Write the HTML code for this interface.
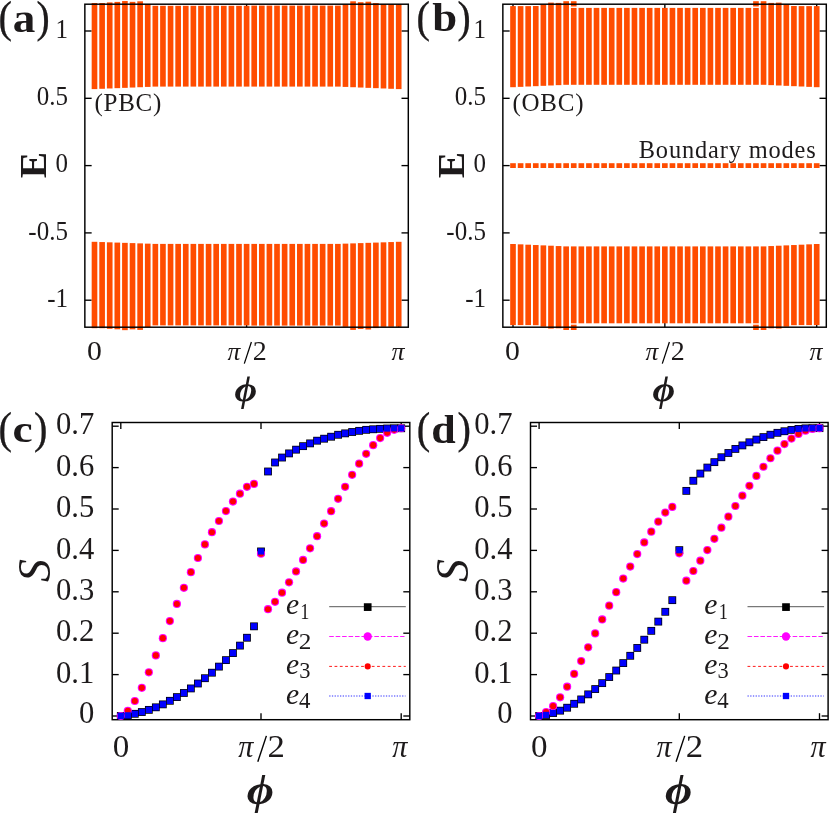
<!DOCTYPE html>
<html><head><meta charset="utf-8"><title>figure</title>
<style>html,body{margin:0;padding:0;background:#fff;overflow:hidden}svg{display:block}text{font-family:"Liberation Serif",serif;fill:#1d1a1b}</style>
</head><body>
<svg width="830" height="814" viewBox="0 0 830 814">
<rect width="830" height="814" fill="#fff"/>
<g style="will-change:transform">
<line x1="84.85" y1="31.00" x2="91.65" y2="31.00" stroke="#000" stroke-width="1.35" />
<line x1="401.50" y1="31.00" x2="408.30" y2="31.00" stroke="#000" stroke-width="1.35" />
<line x1="84.85" y1="98.30" x2="91.65" y2="98.30" stroke="#000" stroke-width="1.35" />
<line x1="401.50" y1="98.30" x2="408.30" y2="98.30" stroke="#000" stroke-width="1.35" />
<line x1="84.85" y1="165.60" x2="91.65" y2="165.60" stroke="#000" stroke-width="1.35" />
<line x1="401.50" y1="165.60" x2="408.30" y2="165.60" stroke="#000" stroke-width="1.35" />
<line x1="84.85" y1="232.90" x2="91.65" y2="232.90" stroke="#000" stroke-width="1.35" />
<line x1="401.50" y1="232.90" x2="408.30" y2="232.90" stroke="#000" stroke-width="1.35" />
<line x1="84.85" y1="300.20" x2="91.65" y2="300.20" stroke="#000" stroke-width="1.35" />
<line x1="401.50" y1="300.20" x2="408.30" y2="300.20" stroke="#000" stroke-width="1.35" />
<line x1="94.50" y1="327.20" x2="94.50" y2="320.40" stroke="#000" stroke-width="1.35" />
<line x1="94.50" y1="4.20" x2="94.50" y2="11.00" stroke="#000" stroke-width="1.35" />
<line x1="246.60" y1="327.20" x2="246.60" y2="320.40" stroke="#000" stroke-width="1.35" />
<line x1="246.60" y1="4.20" x2="246.60" y2="11.00" stroke="#000" stroke-width="1.35" />
<line x1="398.70" y1="327.20" x2="398.70" y2="320.40" stroke="#000" stroke-width="1.35" />
<line x1="398.70" y1="4.20" x2="398.70" y2="11.00" stroke="#000" stroke-width="1.35" />
<rect x="91.67" y="3.00" width="5.65" height="86.10" fill="#ff4c00"/>
<rect x="91.67" y="241.80" width="5.65" height="86.40" fill="#ff4c00"/>
<rect x="99.28" y="3.00" width="5.65" height="85.79" fill="#ff4c00"/>
<rect x="99.28" y="242.06" width="5.65" height="86.14" fill="#ff4c00"/>
<rect x="106.89" y="2.40" width="5.65" height="86.07" fill="#ff4c00"/>
<rect x="106.89" y="242.33" width="5.65" height="86.47" fill="#ff4c00"/>
<rect x="114.49" y="1.90" width="5.65" height="86.26" fill="#ff4c00"/>
<rect x="114.49" y="242.59" width="5.65" height="86.71" fill="#ff4c00"/>
<rect x="122.09" y="1.05" width="5.65" height="86.80" fill="#ff4c00"/>
<rect x="122.09" y="242.85" width="5.65" height="87.30" fill="#ff4c00"/>
<rect x="129.70" y="1.85" width="5.65" height="85.69" fill="#ff4c00"/>
<rect x="129.70" y="243.11" width="5.65" height="86.24" fill="#ff4c00"/>
<rect x="137.31" y="1.30" width="5.65" height="85.92" fill="#ff4c00"/>
<rect x="137.31" y="243.38" width="5.65" height="86.52" fill="#ff4c00"/>
<rect x="144.91" y="4.05" width="5.65" height="82.86" fill="#ff4c00"/>
<rect x="144.91" y="243.64" width="5.65" height="83.51" fill="#ff4c00"/>
<rect x="152.52" y="5.80" width="5.65" height="80.80" fill="#ff4c00"/>
<rect x="152.52" y="243.90" width="5.65" height="81.50" fill="#ff4c00"/>
<rect x="160.12" y="5.80" width="5.65" height="80.80" fill="#ff4c00"/>
<rect x="160.12" y="243.90" width="5.65" height="81.50" fill="#ff4c00"/>
<rect x="167.73" y="5.80" width="5.65" height="80.80" fill="#ff4c00"/>
<rect x="167.73" y="243.90" width="5.65" height="81.50" fill="#ff4c00"/>
<rect x="175.33" y="5.80" width="5.65" height="80.80" fill="#ff4c00"/>
<rect x="175.33" y="243.90" width="5.65" height="81.50" fill="#ff4c00"/>
<rect x="182.94" y="5.80" width="5.65" height="80.80" fill="#ff4c00"/>
<rect x="182.94" y="243.90" width="5.65" height="81.50" fill="#ff4c00"/>
<rect x="190.54" y="5.80" width="5.65" height="80.80" fill="#ff4c00"/>
<rect x="190.54" y="243.90" width="5.65" height="81.50" fill="#ff4c00"/>
<rect x="198.15" y="5.80" width="5.65" height="80.80" fill="#ff4c00"/>
<rect x="198.15" y="243.90" width="5.65" height="81.50" fill="#ff4c00"/>
<rect x="205.75" y="5.80" width="5.65" height="80.80" fill="#ff4c00"/>
<rect x="205.75" y="243.90" width="5.65" height="81.50" fill="#ff4c00"/>
<rect x="213.36" y="5.80" width="5.65" height="80.80" fill="#ff4c00"/>
<rect x="213.36" y="243.90" width="5.65" height="81.50" fill="#ff4c00"/>
<rect x="220.96" y="5.80" width="5.65" height="80.80" fill="#ff4c00"/>
<rect x="220.96" y="243.90" width="5.65" height="81.50" fill="#ff4c00"/>
<rect x="228.57" y="5.80" width="5.65" height="80.80" fill="#ff4c00"/>
<rect x="228.57" y="243.90" width="5.65" height="81.50" fill="#ff4c00"/>
<rect x="236.17" y="5.80" width="5.65" height="80.80" fill="#ff4c00"/>
<rect x="236.17" y="243.90" width="5.65" height="81.50" fill="#ff4c00"/>
<rect x="243.78" y="5.80" width="5.65" height="80.80" fill="#ff4c00"/>
<rect x="243.78" y="243.90" width="5.65" height="81.50" fill="#ff4c00"/>
<rect x="251.38" y="5.60" width="5.65" height="81.00" fill="#ff4c00"/>
<rect x="251.38" y="243.90" width="5.65" height="81.70" fill="#ff4c00"/>
<rect x="258.99" y="5.60" width="5.65" height="81.00" fill="#ff4c00"/>
<rect x="258.99" y="243.90" width="5.65" height="81.70" fill="#ff4c00"/>
<rect x="266.59" y="5.60" width="5.65" height="81.00" fill="#ff4c00"/>
<rect x="266.59" y="243.90" width="5.65" height="81.70" fill="#ff4c00"/>
<rect x="274.19" y="5.60" width="5.65" height="81.00" fill="#ff4c00"/>
<rect x="274.19" y="243.90" width="5.65" height="81.70" fill="#ff4c00"/>
<rect x="281.80" y="5.60" width="5.65" height="81.00" fill="#ff4c00"/>
<rect x="281.80" y="243.90" width="5.65" height="81.70" fill="#ff4c00"/>
<rect x="289.41" y="5.60" width="5.65" height="81.00" fill="#ff4c00"/>
<rect x="289.41" y="243.90" width="5.65" height="81.70" fill="#ff4c00"/>
<rect x="297.01" y="5.60" width="5.65" height="81.00" fill="#ff4c00"/>
<rect x="297.01" y="243.90" width="5.65" height="81.70" fill="#ff4c00"/>
<rect x="304.62" y="5.60" width="5.65" height="81.00" fill="#ff4c00"/>
<rect x="304.62" y="243.90" width="5.65" height="81.70" fill="#ff4c00"/>
<rect x="312.22" y="5.60" width="5.65" height="81.00" fill="#ff4c00"/>
<rect x="312.22" y="243.90" width="5.65" height="81.70" fill="#ff4c00"/>
<rect x="319.82" y="5.60" width="5.65" height="81.00" fill="#ff4c00"/>
<rect x="319.82" y="243.90" width="5.65" height="81.70" fill="#ff4c00"/>
<rect x="327.43" y="5.60" width="5.65" height="81.00" fill="#ff4c00"/>
<rect x="327.43" y="243.90" width="5.65" height="81.70" fill="#ff4c00"/>
<rect x="335.04" y="5.60" width="5.65" height="81.00" fill="#ff4c00"/>
<rect x="335.04" y="243.90" width="5.65" height="81.70" fill="#ff4c00"/>
<rect x="342.64" y="4.40" width="5.65" height="82.51" fill="#ff4c00"/>
<rect x="342.64" y="243.64" width="5.65" height="83.16" fill="#ff4c00"/>
<rect x="350.25" y="1.30" width="5.65" height="85.92" fill="#ff4c00"/>
<rect x="350.25" y="243.38" width="5.65" height="86.52" fill="#ff4c00"/>
<rect x="357.85" y="2.20" width="5.65" height="85.34" fill="#ff4c00"/>
<rect x="357.85" y="243.11" width="5.65" height="85.89" fill="#ff4c00"/>
<rect x="365.46" y="1.70" width="5.65" height="86.15" fill="#ff4c00"/>
<rect x="365.46" y="242.85" width="5.65" height="86.65" fill="#ff4c00"/>
<rect x="373.06" y="3.10" width="5.65" height="85.06" fill="#ff4c00"/>
<rect x="373.06" y="242.59" width="5.65" height="85.51" fill="#ff4c00"/>
<rect x="380.67" y="4.40" width="5.65" height="84.07" fill="#ff4c00"/>
<rect x="380.67" y="242.33" width="5.65" height="84.47" fill="#ff4c00"/>
<rect x="388.27" y="4.40" width="5.65" height="84.39" fill="#ff4c00"/>
<rect x="388.27" y="242.06" width="5.65" height="84.74" fill="#ff4c00"/>
<rect x="395.88" y="4.40" width="5.65" height="84.70" fill="#ff4c00"/>
<rect x="395.88" y="241.80" width="5.65" height="85.00" fill="#ff4c00"/>
<rect x="84.85" y="4.2" width="323.45" height="323.00" fill="none" stroke="#000" stroke-width="1.45"/>
<text transform="translate(67.95,37.75) scale(0.926,1)" font-size="27" text-anchor="end" >1</text>
<text transform="translate(67.95,105.05) scale(0.926,1)" font-size="27" text-anchor="end" >0.5</text>
<text transform="translate(67.95,172.35) scale(0.926,1)" font-size="27" text-anchor="end" >0</text>
<text transform="translate(67.95,239.65) scale(0.926,1)" font-size="27" text-anchor="end" >-0.5</text>
<text transform="translate(67.95,306.95) scale(0.926,1)" font-size="27" text-anchor="end" >-1</text>
<text transform="translate(87.11,359.83) scale(1.0918,1)" font-size="27.26" font-weight="normal" font-style="normal" >0</text>
<text transform="translate(391.47,359.74) scale(0.9895,1)" font-size="26.24" font-weight="normal" font-style="italic" >π</text>
<text transform="translate(227.47,359.64) scale(0.9911,1)" font-size="25.81" font-weight="normal" font-style="italic" >π</text>
<line x1="244.30" y1="363.60" x2="251.40" y2="342.00" stroke="#000" stroke-width="1.25" />
<text transform="translate(252.74,359.90) scale(1.0382,1)" font-size="26.97" font-weight="normal" font-style="normal" >2</text>
<text transform="translate(234.41,401.27) scale(1.0756,1)" font-size="36.31" font-weight="bold" font-style="italic" >ϕ</text>
<text transform="translate(45.90,178.29) rotate(-90) scale(1.0226,1)" font-size="38.63" font-weight="bold" font-style="normal">E</text>
<text x="94.45" y="111.30" font-size="25" text-anchor="start" letter-spacing="0.75" >(PBC)</text>
<text transform="translate(-1.52,32.04) scale(0.9157,1)" font-size="44.11" font-weight="normal" font-style="normal" stroke="#000" stroke-width="0.3">(</text>
<text transform="translate(12.85,31.50) scale(1.1351,1)" font-size="39.79" font-weight="bold" font-style="normal" >a</text>
<text transform="translate(36.41,32.04) scale(0.8981,1)" font-size="44.11" font-weight="normal" font-style="normal" stroke="#000" stroke-width="0.3">)</text>
<line x1="502.85" y1="31.00" x2="509.65" y2="31.00" stroke="#000" stroke-width="1.35" />
<line x1="819.50" y1="31.00" x2="826.30" y2="31.00" stroke="#000" stroke-width="1.35" />
<line x1="502.85" y1="98.30" x2="509.65" y2="98.30" stroke="#000" stroke-width="1.35" />
<line x1="819.50" y1="98.30" x2="826.30" y2="98.30" stroke="#000" stroke-width="1.35" />
<line x1="502.85" y1="165.60" x2="509.65" y2="165.60" stroke="#000" stroke-width="1.35" />
<line x1="819.50" y1="165.60" x2="826.30" y2="165.60" stroke="#000" stroke-width="1.35" />
<line x1="502.85" y1="232.90" x2="509.65" y2="232.90" stroke="#000" stroke-width="1.35" />
<line x1="819.50" y1="232.90" x2="826.30" y2="232.90" stroke="#000" stroke-width="1.35" />
<line x1="502.85" y1="300.20" x2="509.65" y2="300.20" stroke="#000" stroke-width="1.35" />
<line x1="819.50" y1="300.20" x2="826.30" y2="300.20" stroke="#000" stroke-width="1.35" />
<line x1="513.00" y1="327.20" x2="513.00" y2="320.40" stroke="#000" stroke-width="1.35" />
<line x1="513.00" y1="4.20" x2="513.00" y2="11.00" stroke="#000" stroke-width="1.35" />
<line x1="664.85" y1="327.20" x2="664.85" y2="320.40" stroke="#000" stroke-width="1.35" />
<line x1="664.85" y1="4.20" x2="664.85" y2="11.00" stroke="#000" stroke-width="1.35" />
<line x1="816.70" y1="327.20" x2="816.70" y2="320.40" stroke="#000" stroke-width="1.35" />
<line x1="816.70" y1="4.20" x2="816.70" y2="11.00" stroke="#000" stroke-width="1.35" />
<rect x="510.18" y="6.10" width="5.65" height="81.10" fill="#ff4c00"/>
<rect x="510.18" y="244.00" width="5.65" height="81.10" fill="#ff4c00"/>
<rect x="510.18" y="163.20" width="5.65" height="4.8" fill="#ff4c00"/>
<rect x="517.77" y="6.10" width="5.65" height="80.76" fill="#ff4c00"/>
<rect x="517.77" y="244.34" width="5.65" height="80.76" fill="#ff4c00"/>
<rect x="517.77" y="163.20" width="5.65" height="4.8" fill="#ff4c00"/>
<rect x="525.36" y="6.10" width="5.65" height="80.41" fill="#ff4c00"/>
<rect x="525.36" y="244.69" width="5.65" height="80.41" fill="#ff4c00"/>
<rect x="525.36" y="163.20" width="5.65" height="4.8" fill="#ff4c00"/>
<rect x="532.95" y="6.00" width="5.65" height="80.17" fill="#ff4c00"/>
<rect x="532.95" y="245.03" width="5.65" height="80.17" fill="#ff4c00"/>
<rect x="532.95" y="163.20" width="5.65" height="4.8" fill="#ff4c00"/>
<rect x="540.54" y="4.50" width="5.65" height="81.33" fill="#ff4c00"/>
<rect x="540.54" y="245.37" width="5.65" height="81.33" fill="#ff4c00"/>
<rect x="540.54" y="163.20" width="5.65" height="4.8" fill="#ff4c00"/>
<rect x="548.14" y="2.60" width="5.65" height="82.89" fill="#ff4c00"/>
<rect x="548.14" y="245.71" width="5.65" height="82.89" fill="#ff4c00"/>
<rect x="548.14" y="163.20" width="5.65" height="4.8" fill="#ff4c00"/>
<rect x="555.73" y="2.90" width="5.65" height="82.24" fill="#ff4c00"/>
<rect x="555.73" y="246.06" width="5.65" height="82.24" fill="#ff4c00"/>
<rect x="555.73" y="163.20" width="5.65" height="4.8" fill="#ff4c00"/>
<rect x="563.32" y="1.20" width="5.65" height="83.60" fill="#ff4c00"/>
<rect x="563.32" y="246.40" width="5.65" height="83.60" fill="#ff4c00"/>
<rect x="563.32" y="163.20" width="5.65" height="4.8" fill="#ff4c00"/>
<rect x="570.91" y="7.90" width="5.65" height="76.90" fill="#ff4c00"/>
<rect x="570.91" y="246.40" width="5.65" height="76.90" fill="#ff4c00"/>
<rect x="570.91" y="1.2" width="5.65" height="5.3" fill="#ff4c00"/>
<rect x="570.91" y="324.70" width="5.65" height="5.3" fill="#ff4c00"/>
<rect x="570.91" y="163.20" width="5.65" height="4.8" fill="#ff4c00"/>
<rect x="578.51" y="7.90" width="5.65" height="76.90" fill="#ff4c00"/>
<rect x="578.51" y="246.40" width="5.65" height="76.90" fill="#ff4c00"/>
<rect x="578.51" y="163.20" width="5.65" height="4.8" fill="#ff4c00"/>
<rect x="586.10" y="7.90" width="5.65" height="76.90" fill="#ff4c00"/>
<rect x="586.10" y="246.40" width="5.65" height="76.90" fill="#ff4c00"/>
<rect x="586.10" y="163.20" width="5.65" height="4.8" fill="#ff4c00"/>
<rect x="593.69" y="7.90" width="5.65" height="76.90" fill="#ff4c00"/>
<rect x="593.69" y="246.40" width="5.65" height="76.90" fill="#ff4c00"/>
<rect x="593.69" y="163.20" width="5.65" height="4.8" fill="#ff4c00"/>
<rect x="601.28" y="7.90" width="5.65" height="76.90" fill="#ff4c00"/>
<rect x="601.28" y="246.40" width="5.65" height="76.90" fill="#ff4c00"/>
<rect x="601.28" y="163.20" width="5.65" height="4.8" fill="#ff4c00"/>
<rect x="608.88" y="7.90" width="5.65" height="76.90" fill="#ff4c00"/>
<rect x="608.88" y="246.40" width="5.65" height="76.90" fill="#ff4c00"/>
<rect x="608.88" y="163.20" width="5.65" height="4.8" fill="#ff4c00"/>
<rect x="616.47" y="7.90" width="5.65" height="76.90" fill="#ff4c00"/>
<rect x="616.47" y="246.40" width="5.65" height="76.90" fill="#ff4c00"/>
<rect x="616.47" y="163.20" width="5.65" height="4.8" fill="#ff4c00"/>
<rect x="624.06" y="7.90" width="5.65" height="76.90" fill="#ff4c00"/>
<rect x="624.06" y="246.40" width="5.65" height="76.90" fill="#ff4c00"/>
<rect x="624.06" y="163.20" width="5.65" height="4.8" fill="#ff4c00"/>
<rect x="631.65" y="7.90" width="5.65" height="76.90" fill="#ff4c00"/>
<rect x="631.65" y="246.40" width="5.65" height="76.90" fill="#ff4c00"/>
<rect x="631.65" y="163.20" width="5.65" height="4.8" fill="#ff4c00"/>
<rect x="639.25" y="7.90" width="5.65" height="76.90" fill="#ff4c00"/>
<rect x="639.25" y="246.40" width="5.65" height="76.90" fill="#ff4c00"/>
<rect x="639.25" y="163.20" width="5.65" height="4.8" fill="#ff4c00"/>
<rect x="646.84" y="7.90" width="5.65" height="76.90" fill="#ff4c00"/>
<rect x="646.84" y="246.40" width="5.65" height="76.90" fill="#ff4c00"/>
<rect x="646.84" y="163.20" width="5.65" height="4.8" fill="#ff4c00"/>
<rect x="654.43" y="7.90" width="5.65" height="76.90" fill="#ff4c00"/>
<rect x="654.43" y="246.40" width="5.65" height="76.90" fill="#ff4c00"/>
<rect x="654.43" y="163.20" width="5.65" height="4.8" fill="#ff4c00"/>
<rect x="662.02" y="7.90" width="5.65" height="76.90" fill="#ff4c00"/>
<rect x="662.02" y="246.40" width="5.65" height="76.90" fill="#ff4c00"/>
<rect x="662.02" y="163.20" width="5.65" height="4.8" fill="#ff4c00"/>
<rect x="669.62" y="7.90" width="5.65" height="76.90" fill="#ff4c00"/>
<rect x="669.62" y="246.40" width="5.65" height="76.90" fill="#ff4c00"/>
<rect x="669.62" y="163.20" width="5.65" height="4.8" fill="#ff4c00"/>
<rect x="677.21" y="7.90" width="5.65" height="76.90" fill="#ff4c00"/>
<rect x="677.21" y="246.40" width="5.65" height="76.90" fill="#ff4c00"/>
<rect x="677.21" y="163.20" width="5.65" height="4.8" fill="#ff4c00"/>
<rect x="684.80" y="7.90" width="5.65" height="76.90" fill="#ff4c00"/>
<rect x="684.80" y="246.40" width="5.65" height="76.90" fill="#ff4c00"/>
<rect x="684.80" y="163.20" width="5.65" height="4.8" fill="#ff4c00"/>
<rect x="692.39" y="7.90" width="5.65" height="76.90" fill="#ff4c00"/>
<rect x="692.39" y="246.40" width="5.65" height="76.90" fill="#ff4c00"/>
<rect x="692.39" y="163.20" width="5.65" height="4.8" fill="#ff4c00"/>
<rect x="699.99" y="7.90" width="5.65" height="76.90" fill="#ff4c00"/>
<rect x="699.99" y="246.40" width="5.65" height="76.90" fill="#ff4c00"/>
<rect x="699.99" y="163.20" width="5.65" height="4.8" fill="#ff4c00"/>
<rect x="707.58" y="7.90" width="5.65" height="76.90" fill="#ff4c00"/>
<rect x="707.58" y="246.40" width="5.65" height="76.90" fill="#ff4c00"/>
<rect x="707.58" y="163.20" width="5.65" height="4.8" fill="#ff4c00"/>
<rect x="715.17" y="7.90" width="5.65" height="76.90" fill="#ff4c00"/>
<rect x="715.17" y="246.40" width="5.65" height="76.90" fill="#ff4c00"/>
<rect x="715.17" y="163.20" width="5.65" height="4.8" fill="#ff4c00"/>
<rect x="722.76" y="7.90" width="5.65" height="76.90" fill="#ff4c00"/>
<rect x="722.76" y="246.40" width="5.65" height="76.90" fill="#ff4c00"/>
<rect x="722.76" y="163.20" width="5.65" height="4.8" fill="#ff4c00"/>
<rect x="730.36" y="7.90" width="5.65" height="76.90" fill="#ff4c00"/>
<rect x="730.36" y="246.40" width="5.65" height="76.90" fill="#ff4c00"/>
<rect x="730.36" y="163.20" width="5.65" height="4.8" fill="#ff4c00"/>
<rect x="737.95" y="7.90" width="5.65" height="76.90" fill="#ff4c00"/>
<rect x="737.95" y="246.40" width="5.65" height="76.90" fill="#ff4c00"/>
<rect x="737.95" y="163.20" width="5.65" height="4.8" fill="#ff4c00"/>
<rect x="745.54" y="7.90" width="5.65" height="76.90" fill="#ff4c00"/>
<rect x="745.54" y="246.40" width="5.65" height="76.90" fill="#ff4c00"/>
<rect x="745.54" y="163.20" width="5.65" height="4.8" fill="#ff4c00"/>
<rect x="753.13" y="7.90" width="5.65" height="76.90" fill="#ff4c00"/>
<rect x="753.13" y="246.40" width="5.65" height="76.90" fill="#ff4c00"/>
<rect x="753.13" y="1.2" width="5.65" height="5.3" fill="#ff4c00"/>
<rect x="753.13" y="324.70" width="5.65" height="5.3" fill="#ff4c00"/>
<rect x="753.13" y="163.20" width="5.65" height="4.8" fill="#ff4c00"/>
<rect x="760.73" y="1.20" width="5.65" height="83.60" fill="#ff4c00"/>
<rect x="760.73" y="246.40" width="5.65" height="83.60" fill="#ff4c00"/>
<rect x="760.73" y="163.20" width="5.65" height="4.8" fill="#ff4c00"/>
<rect x="768.32" y="2.90" width="5.65" height="82.24" fill="#ff4c00"/>
<rect x="768.32" y="246.06" width="5.65" height="82.24" fill="#ff4c00"/>
<rect x="768.32" y="163.20" width="5.65" height="4.8" fill="#ff4c00"/>
<rect x="775.91" y="2.60" width="5.65" height="82.89" fill="#ff4c00"/>
<rect x="775.91" y="245.71" width="5.65" height="82.89" fill="#ff4c00"/>
<rect x="775.91" y="163.20" width="5.65" height="4.8" fill="#ff4c00"/>
<rect x="783.50" y="4.50" width="5.65" height="81.33" fill="#ff4c00"/>
<rect x="783.50" y="245.37" width="5.65" height="81.33" fill="#ff4c00"/>
<rect x="783.50" y="163.20" width="5.65" height="4.8" fill="#ff4c00"/>
<rect x="791.10" y="6.00" width="5.65" height="80.17" fill="#ff4c00"/>
<rect x="791.10" y="245.03" width="5.65" height="80.17" fill="#ff4c00"/>
<rect x="791.10" y="163.20" width="5.65" height="4.8" fill="#ff4c00"/>
<rect x="798.69" y="6.10" width="5.65" height="80.41" fill="#ff4c00"/>
<rect x="798.69" y="244.69" width="5.65" height="80.41" fill="#ff4c00"/>
<rect x="798.69" y="163.20" width="5.65" height="4.8" fill="#ff4c00"/>
<rect x="806.28" y="6.10" width="5.65" height="80.76" fill="#ff4c00"/>
<rect x="806.28" y="244.34" width="5.65" height="80.76" fill="#ff4c00"/>
<rect x="806.28" y="163.20" width="5.65" height="4.8" fill="#ff4c00"/>
<rect x="813.88" y="6.10" width="5.65" height="81.10" fill="#ff4c00"/>
<rect x="813.88" y="244.00" width="5.65" height="81.10" fill="#ff4c00"/>
<rect x="813.88" y="163.20" width="5.65" height="4.8" fill="#ff4c00"/>
<rect x="502.85" y="4.2" width="323.45" height="323.00" fill="none" stroke="#000" stroke-width="1.45"/>
<text transform="translate(485.95,37.75) scale(0.926,1)" font-size="27" text-anchor="end" >1</text>
<text transform="translate(485.95,105.05) scale(0.926,1)" font-size="27" text-anchor="end" >0.5</text>
<text transform="translate(485.95,172.35) scale(0.926,1)" font-size="27" text-anchor="end" >0</text>
<text transform="translate(485.95,239.65) scale(0.926,1)" font-size="27" text-anchor="end" >-0.5</text>
<text transform="translate(485.95,306.95) scale(0.926,1)" font-size="27" text-anchor="end" >-1</text>
<text transform="translate(505.11,359.83) scale(1.0918,1)" font-size="27.26" font-weight="normal" font-style="normal" >0</text>
<text transform="translate(809.47,359.74) scale(0.9895,1)" font-size="26.24" font-weight="normal" font-style="italic" >π</text>
<text transform="translate(645.47,359.64) scale(0.9911,1)" font-size="25.81" font-weight="normal" font-style="italic" >π</text>
<line x1="662.30" y1="363.60" x2="669.40" y2="342.00" stroke="#000" stroke-width="1.25" />
<text transform="translate(670.74,359.90) scale(1.0382,1)" font-size="26.97" font-weight="normal" font-style="normal" >2</text>
<text transform="translate(652.41,401.27) scale(1.0756,1)" font-size="36.31" font-weight="bold" font-style="italic" >ϕ</text>
<text transform="translate(463.90,178.29) rotate(-90) scale(1.0226,1)" font-size="38.63" font-weight="bold" font-style="normal">E</text>
<text x="512.45" y="111.30" font-size="25" text-anchor="start" letter-spacing="0.75" >(OBC)</text>
<text x="816.60" y="157.70" font-size="24.4" text-anchor="end" letter-spacing="0.85" >Boundary modes</text>
<text transform="translate(416.48,32.04) scale(0.9157,1)" font-size="44.11" font-weight="normal" font-style="normal" stroke="#000" stroke-width="0.3">(</text>
<text transform="translate(432.13,31.40) scale(1.1281,1)" font-size="39.71" font-weight="bold" font-style="normal" >b</text>
<text transform="translate(457.51,32.04) scale(0.8981,1)" font-size="44.11" font-weight="normal" font-style="normal" stroke="#000" stroke-width="0.3">)</text>
<rect x="112.2" y="422.5" width="297.60" height="297.20" fill="none" stroke="#000" stroke-width="1.45"/>
<line x1="112.20" y1="716.00" x2="118.70" y2="716.00" stroke="#000" stroke-width="1.35" />
<line x1="403.30" y1="716.00" x2="409.80" y2="716.00" stroke="#000" stroke-width="1.35" />
<text transform="translate(94.20,723.10) scale(0.948,1)" font-size="32.3" text-anchor="end" >0</text>
<line x1="112.20" y1="674.60" x2="118.70" y2="674.60" stroke="#000" stroke-width="1.35" />
<line x1="403.30" y1="674.60" x2="409.80" y2="674.60" stroke="#000" stroke-width="1.35" />
<text transform="translate(94.20,682.75) scale(0.948,1)" font-size="32.3" text-anchor="end" >0.1</text>
<line x1="112.20" y1="633.20" x2="118.70" y2="633.20" stroke="#000" stroke-width="1.35" />
<line x1="403.30" y1="633.20" x2="409.80" y2="633.20" stroke="#000" stroke-width="1.35" />
<text transform="translate(94.20,641.35) scale(0.948,1)" font-size="32.3" text-anchor="end" >0.2</text>
<line x1="112.20" y1="591.80" x2="118.70" y2="591.80" stroke="#000" stroke-width="1.35" />
<line x1="403.30" y1="591.80" x2="409.80" y2="591.80" stroke="#000" stroke-width="1.35" />
<text transform="translate(94.20,599.95) scale(0.948,1)" font-size="32.3" text-anchor="end" >0.3</text>
<line x1="112.20" y1="550.40" x2="118.70" y2="550.40" stroke="#000" stroke-width="1.35" />
<line x1="403.30" y1="550.40" x2="409.80" y2="550.40" stroke="#000" stroke-width="1.35" />
<text transform="translate(94.20,558.55) scale(0.948,1)" font-size="32.3" text-anchor="end" >0.4</text>
<line x1="112.20" y1="509.00" x2="118.70" y2="509.00" stroke="#000" stroke-width="1.35" />
<line x1="403.30" y1="509.00" x2="409.80" y2="509.00" stroke="#000" stroke-width="1.35" />
<text transform="translate(94.20,517.15) scale(0.948,1)" font-size="32.3" text-anchor="end" >0.5</text>
<line x1="112.20" y1="467.60" x2="118.70" y2="467.60" stroke="#000" stroke-width="1.35" />
<line x1="403.30" y1="467.60" x2="409.80" y2="467.60" stroke="#000" stroke-width="1.35" />
<text transform="translate(94.20,475.75) scale(0.948,1)" font-size="32.3" text-anchor="end" >0.6</text>
<line x1="112.20" y1="426.20" x2="118.70" y2="426.20" stroke="#000" stroke-width="1.35" />
<line x1="403.30" y1="426.20" x2="409.80" y2="426.20" stroke="#000" stroke-width="1.35" />
<text transform="translate(94.20,434.35) scale(0.948,1)" font-size="32.3" text-anchor="end" >0.7</text>
<line x1="120.80" y1="719.70" x2="120.80" y2="713.20" stroke="#000" stroke-width="1.35" />
<line x1="120.80" y1="422.50" x2="120.80" y2="429.00" stroke="#000" stroke-width="1.35" />
<line x1="261.00" y1="719.70" x2="261.00" y2="713.20" stroke="#000" stroke-width="1.35" />
<line x1="261.00" y1="422.50" x2="261.00" y2="429.00" stroke="#000" stroke-width="1.35" />
<line x1="401.20" y1="719.70" x2="401.20" y2="713.20" stroke="#000" stroke-width="1.35" />
<line x1="401.20" y1="422.50" x2="401.20" y2="429.00" stroke="#000" stroke-width="1.35" />
<line x1="329.20" y1="606.70" x2="405.80" y2="606.70" stroke="#222" stroke-width="0.75" />
<line x1="329.20" y1="636.50" x2="404.50" y2="636.50" stroke="#ff00ff" stroke-width="0.9" stroke-dasharray="4.6 1.85"/>
<line x1="329.20" y1="666.40" x2="405.80" y2="666.40" stroke="#ff0000" stroke-width="0.9" stroke-dasharray="2.8 2.52"/>
<line x1="329.20" y1="696.00" x2="405.50" y2="696.00" stroke="#0000ff" stroke-width="1.0" stroke-dasharray="1.3 1.4" stroke-opacity="0.8"/>
<rect x="363.85" y="603.25" width="7.7" height="7.7" fill="#000"/>
<circle cx="367.70" cy="636.50" r="4.15" fill="#ff00ff"/>
<circle cx="367.70" cy="666.40" r="3.05" fill="#ff0000"/>
<rect x="364.55" y="692.85" width="6.3" height="6.3" fill="#0000ff"/>
<text transform="translate(285.91,614.20) scale(0.9984,1)" font-size="29.79" font-weight="normal" font-style="italic" >e</text>
<text transform="translate(300.35,619.00) scale(0.7727,1)" font-size="23.66" font-weight="normal" font-style="normal" >1</text>
<text transform="translate(285.91,644.20) scale(0.9984,1)" font-size="29.79" font-weight="normal" font-style="italic" >e</text>
<text transform="translate(298.86,648.70) scale(1.0821,1)" font-size="23.33" font-weight="normal" font-style="normal" >2</text>
<text transform="translate(285.91,674.00) scale(0.9984,1)" font-size="29.79" font-weight="normal" font-style="italic" >e</text>
<text transform="translate(299.18,678.36) scale(0.9455,1)" font-size="23.73" font-weight="normal" font-style="normal" >3</text>
<text transform="translate(285.91,704.00) scale(0.9984,1)" font-size="29.79" font-weight="normal" font-style="italic" >e</text>
<text transform="translate(299.04,708.22) scale(0.9559,1)" font-size="23.85" font-weight="normal" font-style="normal" >4</text>
<rect x="116.90" y="712.06" width="7.8" height="7.8" fill="#000"/>
<rect x="123.91" y="711.48" width="7.8" height="7.8" fill="#000"/>
<rect x="130.92" y="709.91" width="7.8" height="7.8" fill="#000"/>
<rect x="137.93" y="708.13" width="7.8" height="7.8" fill="#000"/>
<rect x="144.94" y="705.97" width="7.8" height="7.8" fill="#000"/>
<rect x="151.95" y="703.41" width="7.8" height="7.8" fill="#000"/>
<rect x="158.96" y="700.47" width="7.8" height="7.8" fill="#000"/>
<rect x="165.97" y="696.91" width="7.8" height="7.8" fill="#000"/>
<rect x="172.98" y="693.18" width="7.8" height="7.8" fill="#000"/>
<rect x="179.99" y="689.08" width="7.8" height="7.8" fill="#000"/>
<rect x="187.00" y="684.53" width="7.8" height="7.8" fill="#000"/>
<rect x="194.01" y="679.60" width="7.8" height="7.8" fill="#000"/>
<rect x="201.02" y="674.30" width="7.8" height="7.8" fill="#000"/>
<rect x="208.03" y="668.80" width="7.8" height="7.8" fill="#000"/>
<rect x="215.04" y="662.71" width="7.8" height="7.8" fill="#000"/>
<rect x="222.05" y="656.21" width="7.8" height="7.8" fill="#000"/>
<rect x="229.06" y="649.17" width="7.8" height="7.8" fill="#000"/>
<rect x="236.07" y="641.72" width="7.8" height="7.8" fill="#000"/>
<rect x="243.08" y="633.85" width="7.8" height="7.8" fill="#000"/>
<rect x="250.09" y="622.43" width="7.8" height="7.8" fill="#000"/>
<rect x="257.10" y="547.53" width="7.8" height="7.8" fill="#000"/>
<rect x="264.11" y="467.59" width="7.8" height="7.8" fill="#000"/>
<rect x="271.12" y="458.57" width="7.8" height="7.8" fill="#000"/>
<rect x="278.13" y="453.64" width="7.8" height="7.8" fill="#000"/>
<rect x="285.14" y="449.50" width="7.8" height="7.8" fill="#000"/>
<rect x="292.15" y="445.77" width="7.8" height="7.8" fill="#000"/>
<rect x="299.16" y="442.25" width="7.8" height="7.8" fill="#000"/>
<rect x="306.17" y="439.48" width="7.8" height="7.8" fill="#000"/>
<rect x="313.18" y="436.79" width="7.8" height="7.8" fill="#000"/>
<rect x="320.19" y="434.80" width="7.8" height="7.8" fill="#000"/>
<rect x="327.20" y="432.82" width="7.8" height="7.8" fill="#000"/>
<rect x="334.21" y="430.87" width="7.8" height="7.8" fill="#000"/>
<rect x="341.22" y="429.46" width="7.8" height="7.8" fill="#000"/>
<rect x="348.23" y="428.10" width="7.8" height="7.8" fill="#000"/>
<rect x="355.24" y="426.94" width="7.8" height="7.8" fill="#000"/>
<rect x="362.25" y="425.94" width="7.8" height="7.8" fill="#000"/>
<rect x="369.26" y="425.36" width="7.8" height="7.8" fill="#000"/>
<rect x="376.27" y="424.95" width="7.8" height="7.8" fill="#000"/>
<rect x="383.28" y="424.58" width="7.8" height="7.8" fill="#000"/>
<rect x="390.29" y="424.37" width="7.8" height="7.8" fill="#000"/>
<rect x="397.30" y="424.37" width="7.8" height="7.8" fill="#000"/>
<circle cx="120.80" cy="716.00" r="4.1" fill="#ff00ff"/>
<circle cx="127.81" cy="710.87" r="4.1" fill="#ff00ff"/>
<circle cx="134.82" cy="701.01" r="4.1" fill="#ff00ff"/>
<circle cx="141.83" cy="687.85" r="4.1" fill="#ff00ff"/>
<circle cx="148.84" cy="672.32" r="4.1" fill="#ff00ff"/>
<circle cx="155.85" cy="655.39" r="4.1" fill="#ff00ff"/>
<circle cx="162.86" cy="638.17" r="4.1" fill="#ff00ff"/>
<circle cx="169.87" cy="621.03" r="4.1" fill="#ff00ff"/>
<circle cx="176.88" cy="603.93" r="4.1" fill="#ff00ff"/>
<circle cx="183.89" cy="587.78" r="4.1" fill="#ff00ff"/>
<circle cx="190.90" cy="572.13" r="4.1" fill="#ff00ff"/>
<circle cx="197.91" cy="558.02" r="4.1" fill="#ff00ff"/>
<circle cx="204.92" cy="544.40" r="4.1" fill="#ff00ff"/>
<circle cx="211.93" cy="532.18" r="4.1" fill="#ff00ff"/>
<circle cx="218.94" cy="521.01" r="4.1" fill="#ff00ff"/>
<circle cx="225.95" cy="511.07" r="4.1" fill="#ff00ff"/>
<circle cx="232.96" cy="501.55" r="4.1" fill="#ff00ff"/>
<circle cx="239.97" cy="493.68" r="4.1" fill="#ff00ff"/>
<circle cx="246.98" cy="486.81" r="4.1" fill="#ff00ff"/>
<circle cx="253.99" cy="483.91" r="4.1" fill="#ff00ff"/>
<circle cx="261.00" cy="553.71" r="4.1" fill="#ff00ff"/>
<circle cx="268.01" cy="609.19" r="4.1" fill="#ff00ff"/>
<circle cx="275.02" cy="601.78" r="4.1" fill="#ff00ff"/>
<circle cx="282.03" cy="592.71" r="4.1" fill="#ff00ff"/>
<circle cx="289.04" cy="582.28" r="4.1" fill="#ff00ff"/>
<circle cx="296.05" cy="571.43" r="4.1" fill="#ff00ff"/>
<circle cx="303.06" cy="559.96" r="4.1" fill="#ff00ff"/>
<circle cx="310.07" cy="548.33" r="4.1" fill="#ff00ff"/>
<circle cx="317.08" cy="536.20" r="4.1" fill="#ff00ff"/>
<circle cx="324.09" cy="523.57" r="4.1" fill="#ff00ff"/>
<circle cx="331.10" cy="511.19" r="4.1" fill="#ff00ff"/>
<circle cx="338.11" cy="498.82" r="4.1" fill="#ff00ff"/>
<circle cx="345.12" cy="486.81" r="4.1" fill="#ff00ff"/>
<circle cx="352.13" cy="474.85" r="4.1" fill="#ff00ff"/>
<circle cx="359.14" cy="463.63" r="4.1" fill="#ff00ff"/>
<circle cx="366.15" cy="453.81" r="4.1" fill="#ff00ff"/>
<circle cx="373.16" cy="445.16" r="4.1" fill="#ff00ff"/>
<circle cx="380.17" cy="438.08" r="4.1" fill="#ff00ff"/>
<circle cx="387.18" cy="432.78" r="4.1" fill="#ff00ff"/>
<circle cx="394.19" cy="429.84" r="4.1" fill="#ff00ff"/>
<circle cx="401.20" cy="428.27" r="4.1" fill="#ff00ff"/>
<circle cx="120.80" cy="716.00" r="3.05" fill="#ff0000"/>
<circle cx="127.81" cy="710.87" r="3.05" fill="#ff0000"/>
<circle cx="134.82" cy="701.01" r="3.05" fill="#ff0000"/>
<circle cx="141.83" cy="687.85" r="3.05" fill="#ff0000"/>
<circle cx="148.84" cy="672.32" r="3.05" fill="#ff0000"/>
<circle cx="155.85" cy="655.39" r="3.05" fill="#ff0000"/>
<circle cx="162.86" cy="638.17" r="3.05" fill="#ff0000"/>
<circle cx="169.87" cy="621.03" r="3.05" fill="#ff0000"/>
<circle cx="176.88" cy="603.93" r="3.05" fill="#ff0000"/>
<circle cx="183.89" cy="587.78" r="3.05" fill="#ff0000"/>
<circle cx="190.90" cy="572.13" r="3.05" fill="#ff0000"/>
<circle cx="197.91" cy="558.02" r="3.05" fill="#ff0000"/>
<circle cx="204.92" cy="544.40" r="3.05" fill="#ff0000"/>
<circle cx="211.93" cy="532.18" r="3.05" fill="#ff0000"/>
<circle cx="218.94" cy="521.01" r="3.05" fill="#ff0000"/>
<circle cx="225.95" cy="511.07" r="3.05" fill="#ff0000"/>
<circle cx="232.96" cy="501.55" r="3.05" fill="#ff0000"/>
<circle cx="239.97" cy="493.68" r="3.05" fill="#ff0000"/>
<circle cx="246.98" cy="486.81" r="3.05" fill="#ff0000"/>
<circle cx="253.99" cy="483.91" r="3.05" fill="#ff0000"/>
<circle cx="261.00" cy="553.71" r="3.05" fill="#ff0000"/>
<circle cx="268.01" cy="609.19" r="3.05" fill="#ff0000"/>
<circle cx="275.02" cy="601.78" r="3.05" fill="#ff0000"/>
<circle cx="282.03" cy="592.71" r="3.05" fill="#ff0000"/>
<circle cx="289.04" cy="582.28" r="3.05" fill="#ff0000"/>
<circle cx="296.05" cy="571.43" r="3.05" fill="#ff0000"/>
<circle cx="303.06" cy="559.96" r="3.05" fill="#ff0000"/>
<circle cx="310.07" cy="548.33" r="3.05" fill="#ff0000"/>
<circle cx="317.08" cy="536.20" r="3.05" fill="#ff0000"/>
<circle cx="324.09" cy="523.57" r="3.05" fill="#ff0000"/>
<circle cx="331.10" cy="511.19" r="3.05" fill="#ff0000"/>
<circle cx="338.11" cy="498.82" r="3.05" fill="#ff0000"/>
<circle cx="345.12" cy="486.81" r="3.05" fill="#ff0000"/>
<circle cx="352.13" cy="474.85" r="3.05" fill="#ff0000"/>
<circle cx="359.14" cy="463.63" r="3.05" fill="#ff0000"/>
<circle cx="366.15" cy="453.81" r="3.05" fill="#ff0000"/>
<circle cx="373.16" cy="445.16" r="3.05" fill="#ff0000"/>
<circle cx="380.17" cy="438.08" r="3.05" fill="#ff0000"/>
<circle cx="387.18" cy="432.78" r="3.05" fill="#ff0000"/>
<circle cx="394.19" cy="429.84" r="3.05" fill="#ff0000"/>
<circle cx="401.20" cy="428.27" r="3.05" fill="#ff0000"/>
<rect x="117.65" y="712.81" width="6.3" height="6.3" fill="#0000ff"/>
<rect x="124.66" y="712.23" width="6.3" height="6.3" fill="#0000ff"/>
<rect x="131.67" y="710.66" width="6.3" height="6.3" fill="#0000ff"/>
<rect x="138.68" y="708.88" width="6.3" height="6.3" fill="#0000ff"/>
<rect x="145.69" y="706.72" width="6.3" height="6.3" fill="#0000ff"/>
<rect x="152.70" y="704.16" width="6.3" height="6.3" fill="#0000ff"/>
<rect x="159.71" y="701.22" width="6.3" height="6.3" fill="#0000ff"/>
<rect x="166.72" y="697.66" width="6.3" height="6.3" fill="#0000ff"/>
<rect x="173.73" y="693.93" width="6.3" height="6.3" fill="#0000ff"/>
<rect x="180.74" y="689.83" width="6.3" height="6.3" fill="#0000ff"/>
<rect x="187.75" y="685.28" width="6.3" height="6.3" fill="#0000ff"/>
<rect x="194.76" y="680.35" width="6.3" height="6.3" fill="#0000ff"/>
<rect x="201.77" y="675.05" width="6.3" height="6.3" fill="#0000ff"/>
<rect x="208.78" y="669.55" width="6.3" height="6.3" fill="#0000ff"/>
<rect x="215.79" y="663.46" width="6.3" height="6.3" fill="#0000ff"/>
<rect x="222.80" y="656.96" width="6.3" height="6.3" fill="#0000ff"/>
<rect x="229.81" y="649.92" width="6.3" height="6.3" fill="#0000ff"/>
<rect x="236.82" y="642.47" width="6.3" height="6.3" fill="#0000ff"/>
<rect x="243.83" y="634.60" width="6.3" height="6.3" fill="#0000ff"/>
<rect x="250.84" y="623.18" width="6.3" height="6.3" fill="#0000ff"/>
<rect x="257.85" y="548.28" width="6.3" height="6.3" fill="#0000ff"/>
<rect x="264.86" y="468.34" width="6.3" height="6.3" fill="#0000ff"/>
<rect x="271.87" y="459.32" width="6.3" height="6.3" fill="#0000ff"/>
<rect x="278.88" y="454.39" width="6.3" height="6.3" fill="#0000ff"/>
<rect x="285.89" y="450.25" width="6.3" height="6.3" fill="#0000ff"/>
<rect x="292.90" y="446.52" width="6.3" height="6.3" fill="#0000ff"/>
<rect x="299.91" y="443.00" width="6.3" height="6.3" fill="#0000ff"/>
<rect x="306.92" y="440.23" width="6.3" height="6.3" fill="#0000ff"/>
<rect x="313.93" y="437.54" width="6.3" height="6.3" fill="#0000ff"/>
<rect x="320.94" y="435.55" width="6.3" height="6.3" fill="#0000ff"/>
<rect x="327.95" y="433.57" width="6.3" height="6.3" fill="#0000ff"/>
<rect x="334.96" y="431.62" width="6.3" height="6.3" fill="#0000ff"/>
<rect x="341.97" y="430.21" width="6.3" height="6.3" fill="#0000ff"/>
<rect x="348.98" y="428.85" width="6.3" height="6.3" fill="#0000ff"/>
<rect x="355.99" y="427.69" width="6.3" height="6.3" fill="#0000ff"/>
<rect x="363.00" y="426.69" width="6.3" height="6.3" fill="#0000ff"/>
<rect x="370.01" y="426.11" width="6.3" height="6.3" fill="#0000ff"/>
<rect x="377.02" y="425.70" width="6.3" height="6.3" fill="#0000ff"/>
<rect x="384.03" y="425.33" width="6.3" height="6.3" fill="#0000ff"/>
<rect x="391.04" y="425.12" width="6.3" height="6.3" fill="#0000ff"/>
<rect x="398.05" y="425.12" width="6.3" height="6.3" fill="#0000ff"/>
<text transform="translate(112.68,757.48) scale(1.0247,1)" font-size="32.30" font-weight="normal" font-style="normal" >0</text>
<text transform="translate(392.25,756.89) scale(0.9887,1)" font-size="30.54" font-weight="normal" font-style="italic" >π</text>
<text transform="translate(238.25,756.89) scale(0.9750,1)" font-size="30.97" font-weight="normal" font-style="italic" >π</text>
<line x1="257.80" y1="761.70" x2="266.40" y2="735.90" stroke="#000" stroke-width="1.4" />
<text transform="translate(267.54,756.90) scale(1.0974,1)" font-size="31.67" font-weight="normal" font-style="normal" >2</text>
<text transform="translate(246.80,803.94) scale(1.1395,1)" font-size="41.23" font-weight="bold" font-style="italic" >ϕ</text>
<text transform="translate(49.64,581.96) rotate(-90) scale(1.0016,1)" font-size="45.82" font-weight="normal" font-style="italic">S</text>
<text transform="translate(-1.52,443.41) scale(0.9134,1)" font-size="44.22" font-weight="normal" font-style="normal" stroke="#000" stroke-width="0.3">(</text>
<text transform="translate(12.61,442.36) scale(1.1762,1)" font-size="38.65" font-weight="bold" font-style="normal" >c</text>
<text transform="translate(34.09,443.41) scale(0.9132,1)" font-size="44.22" font-weight="normal" font-style="normal" stroke="#000" stroke-width="0.3">)</text>
<rect x="530.5" y="422.5" width="297.60" height="297.20" fill="none" stroke="#000" stroke-width="1.45"/>
<line x1="530.50" y1="716.00" x2="537.00" y2="716.00" stroke="#000" stroke-width="1.35" />
<line x1="821.60" y1="716.00" x2="828.10" y2="716.00" stroke="#000" stroke-width="1.35" />
<text transform="translate(512.50,723.10) scale(0.948,1)" font-size="32.3" text-anchor="end" >0</text>
<line x1="530.50" y1="674.60" x2="537.00" y2="674.60" stroke="#000" stroke-width="1.35" />
<line x1="821.60" y1="674.60" x2="828.10" y2="674.60" stroke="#000" stroke-width="1.35" />
<text transform="translate(512.50,682.75) scale(0.948,1)" font-size="32.3" text-anchor="end" >0.1</text>
<line x1="530.50" y1="633.20" x2="537.00" y2="633.20" stroke="#000" stroke-width="1.35" />
<line x1="821.60" y1="633.20" x2="828.10" y2="633.20" stroke="#000" stroke-width="1.35" />
<text transform="translate(512.50,641.35) scale(0.948,1)" font-size="32.3" text-anchor="end" >0.2</text>
<line x1="530.50" y1="591.80" x2="537.00" y2="591.80" stroke="#000" stroke-width="1.35" />
<line x1="821.60" y1="591.80" x2="828.10" y2="591.80" stroke="#000" stroke-width="1.35" />
<text transform="translate(512.50,599.95) scale(0.948,1)" font-size="32.3" text-anchor="end" >0.3</text>
<line x1="530.50" y1="550.40" x2="537.00" y2="550.40" stroke="#000" stroke-width="1.35" />
<line x1="821.60" y1="550.40" x2="828.10" y2="550.40" stroke="#000" stroke-width="1.35" />
<text transform="translate(512.50,558.55) scale(0.948,1)" font-size="32.3" text-anchor="end" >0.4</text>
<line x1="530.50" y1="509.00" x2="537.00" y2="509.00" stroke="#000" stroke-width="1.35" />
<line x1="821.60" y1="509.00" x2="828.10" y2="509.00" stroke="#000" stroke-width="1.35" />
<text transform="translate(512.50,517.15) scale(0.948,1)" font-size="32.3" text-anchor="end" >0.5</text>
<line x1="530.50" y1="467.60" x2="537.00" y2="467.60" stroke="#000" stroke-width="1.35" />
<line x1="821.60" y1="467.60" x2="828.10" y2="467.60" stroke="#000" stroke-width="1.35" />
<text transform="translate(512.50,475.75) scale(0.948,1)" font-size="32.3" text-anchor="end" >0.6</text>
<line x1="530.50" y1="426.20" x2="537.00" y2="426.20" stroke="#000" stroke-width="1.35" />
<line x1="821.60" y1="426.20" x2="828.10" y2="426.20" stroke="#000" stroke-width="1.35" />
<text transform="translate(512.50,434.35) scale(0.948,1)" font-size="32.3" text-anchor="end" >0.7</text>
<line x1="539.10" y1="719.70" x2="539.10" y2="713.20" stroke="#000" stroke-width="1.35" />
<line x1="539.10" y1="422.50" x2="539.10" y2="429.00" stroke="#000" stroke-width="1.35" />
<line x1="679.30" y1="719.70" x2="679.30" y2="713.20" stroke="#000" stroke-width="1.35" />
<line x1="679.30" y1="422.50" x2="679.30" y2="429.00" stroke="#000" stroke-width="1.35" />
<line x1="819.50" y1="719.70" x2="819.50" y2="713.20" stroke="#000" stroke-width="1.35" />
<line x1="819.50" y1="422.50" x2="819.50" y2="429.00" stroke="#000" stroke-width="1.35" />
<line x1="747.50" y1="606.70" x2="824.10" y2="606.70" stroke="#222" stroke-width="0.75" />
<line x1="747.50" y1="636.50" x2="822.80" y2="636.50" stroke="#ff00ff" stroke-width="0.9" stroke-dasharray="4.6 1.85"/>
<line x1="747.50" y1="666.40" x2="824.10" y2="666.40" stroke="#ff0000" stroke-width="0.9" stroke-dasharray="2.8 2.52"/>
<line x1="747.50" y1="696.00" x2="823.80" y2="696.00" stroke="#0000ff" stroke-width="1.0" stroke-dasharray="1.3 1.4" stroke-opacity="0.8"/>
<rect x="782.15" y="603.25" width="7.7" height="7.7" fill="#000"/>
<circle cx="786.00" cy="636.50" r="4.15" fill="#ff00ff"/>
<circle cx="786.00" cy="666.40" r="3.05" fill="#ff0000"/>
<rect x="782.85" y="692.85" width="6.3" height="6.3" fill="#0000ff"/>
<text transform="translate(704.21,614.20) scale(0.9984,1)" font-size="29.79" font-weight="normal" font-style="italic" >e</text>
<text transform="translate(718.65,619.00) scale(0.7727,1)" font-size="23.66" font-weight="normal" font-style="normal" >1</text>
<text transform="translate(704.21,644.20) scale(0.9984,1)" font-size="29.79" font-weight="normal" font-style="italic" >e</text>
<text transform="translate(717.16,648.70) scale(1.0821,1)" font-size="23.33" font-weight="normal" font-style="normal" >2</text>
<text transform="translate(704.21,674.00) scale(0.9984,1)" font-size="29.79" font-weight="normal" font-style="italic" >e</text>
<text transform="translate(717.48,678.36) scale(0.9455,1)" font-size="23.73" font-weight="normal" font-style="normal" >3</text>
<text transform="translate(704.21,704.00) scale(0.9984,1)" font-size="29.79" font-weight="normal" font-style="italic" >e</text>
<text transform="translate(717.34,708.22) scale(0.9559,1)" font-size="23.85" font-weight="normal" font-style="normal" >4</text>
<rect x="535.20" y="712.06" width="7.8" height="7.8" fill="#000"/>
<rect x="542.21" y="711.07" width="7.8" height="7.8" fill="#000"/>
<rect x="549.22" y="709.12" width="7.8" height="7.8" fill="#000"/>
<rect x="556.23" y="706.76" width="7.8" height="7.8" fill="#000"/>
<rect x="563.24" y="703.82" width="7.8" height="7.8" fill="#000"/>
<rect x="570.25" y="699.89" width="7.8" height="7.8" fill="#000"/>
<rect x="577.26" y="695.54" width="7.8" height="7.8" fill="#000"/>
<rect x="584.27" y="690.45" width="7.8" height="7.8" fill="#000"/>
<rect x="591.28" y="685.15" width="7.8" height="7.8" fill="#000"/>
<rect x="598.29" y="679.23" width="7.8" height="7.8" fill="#000"/>
<rect x="605.30" y="673.14" width="7.8" height="7.8" fill="#000"/>
<rect x="612.31" y="666.64" width="7.8" height="7.8" fill="#000"/>
<rect x="619.32" y="659.19" width="7.8" height="7.8" fill="#000"/>
<rect x="626.33" y="651.90" width="7.8" height="7.8" fill="#000"/>
<rect x="633.34" y="644.04" width="7.8" height="7.8" fill="#000"/>
<rect x="640.35" y="635.80" width="7.8" height="7.8" fill="#000"/>
<rect x="647.36" y="626.94" width="7.8" height="7.8" fill="#000"/>
<rect x="654.37" y="617.71" width="7.8" height="7.8" fill="#000"/>
<rect x="661.38" y="607.90" width="7.8" height="7.8" fill="#000"/>
<rect x="668.39" y="596.26" width="7.8" height="7.8" fill="#000"/>
<rect x="675.40" y="546.21" width="7.8" height="7.8" fill="#000"/>
<rect x="682.41" y="486.97" width="7.8" height="7.8" fill="#000"/>
<rect x="689.42" y="476.87" width="7.8" height="7.8" fill="#000"/>
<rect x="696.43" y="469.66" width="7.8" height="7.8" fill="#000"/>
<rect x="703.44" y="463.66" width="7.8" height="7.8" fill="#000"/>
<rect x="710.45" y="458.24" width="7.8" height="7.8" fill="#000"/>
<rect x="717.46" y="453.35" width="7.8" height="7.8" fill="#000"/>
<rect x="724.47" y="449.09" width="7.8" height="7.8" fill="#000"/>
<rect x="731.48" y="445.03" width="7.8" height="7.8" fill="#000"/>
<rect x="738.49" y="441.51" width="7.8" height="7.8" fill="#000"/>
<rect x="745.50" y="438.40" width="7.8" height="7.8" fill="#000"/>
<rect x="752.51" y="435.71" width="7.8" height="7.8" fill="#000"/>
<rect x="759.52" y="433.19" width="7.8" height="7.8" fill="#000"/>
<rect x="766.53" y="430.83" width="7.8" height="7.8" fill="#000"/>
<rect x="773.54" y="428.92" width="7.8" height="7.8" fill="#000"/>
<rect x="780.55" y="427.35" width="7.8" height="7.8" fill="#000"/>
<rect x="787.56" y="425.98" width="7.8" height="7.8" fill="#000"/>
<rect x="794.57" y="425.03" width="7.8" height="7.8" fill="#000"/>
<rect x="801.58" y="424.45" width="7.8" height="7.8" fill="#000"/>
<rect x="808.59" y="424.25" width="7.8" height="7.8" fill="#000"/>
<rect x="815.60" y="424.25" width="7.8" height="7.8" fill="#000"/>
<circle cx="539.10" cy="716.00" r="4.1" fill="#ff00ff"/>
<circle cx="546.11" cy="712.03" r="4.1" fill="#ff00ff"/>
<circle cx="553.12" cy="706.15" r="4.1" fill="#ff00ff"/>
<circle cx="560.13" cy="697.29" r="4.1" fill="#ff00ff"/>
<circle cx="567.14" cy="686.69" r="4.1" fill="#ff00ff"/>
<circle cx="574.15" cy="673.90" r="4.1" fill="#ff00ff"/>
<circle cx="581.16" cy="661.10" r="4.1" fill="#ff00ff"/>
<circle cx="588.17" cy="647.36" r="4.1" fill="#ff00ff"/>
<circle cx="595.18" cy="633.41" r="4.1" fill="#ff00ff"/>
<circle cx="602.19" cy="619.46" r="4.1" fill="#ff00ff"/>
<circle cx="609.20" cy="605.67" r="4.1" fill="#ff00ff"/>
<circle cx="616.21" cy="592.13" r="4.1" fill="#ff00ff"/>
<circle cx="623.22" cy="578.55" r="4.1" fill="#ff00ff"/>
<circle cx="630.23" cy="566.55" r="4.1" fill="#ff00ff"/>
<circle cx="637.24" cy="554.04" r="4.1" fill="#ff00ff"/>
<circle cx="644.25" cy="542.45" r="4.1" fill="#ff00ff"/>
<circle cx="651.26" cy="531.65" r="4.1" fill="#ff00ff"/>
<circle cx="658.27" cy="521.63" r="4.1" fill="#ff00ff"/>
<circle cx="665.28" cy="512.56" r="4.1" fill="#ff00ff"/>
<circle cx="672.29" cy="506.89" r="4.1" fill="#ff00ff"/>
<circle cx="679.30" cy="553.30" r="4.1" fill="#ff00ff"/>
<circle cx="686.31" cy="580.70" r="4.1" fill="#ff00ff"/>
<circle cx="693.32" cy="571.02" r="4.1" fill="#ff00ff"/>
<circle cx="700.33" cy="560.71" r="4.1" fill="#ff00ff"/>
<circle cx="707.34" cy="550.07" r="4.1" fill="#ff00ff"/>
<circle cx="714.35" cy="538.81" r="4.1" fill="#ff00ff"/>
<circle cx="721.36" cy="527.71" r="4.1" fill="#ff00ff"/>
<circle cx="728.37" cy="516.66" r="4.1" fill="#ff00ff"/>
<circle cx="735.38" cy="505.98" r="4.1" fill="#ff00ff"/>
<circle cx="742.39" cy="495.71" r="4.1" fill="#ff00ff"/>
<circle cx="749.40" cy="485.82" r="4.1" fill="#ff00ff"/>
<circle cx="756.41" cy="475.88" r="4.1" fill="#ff00ff"/>
<circle cx="763.42" cy="466.77" r="4.1" fill="#ff00ff"/>
<circle cx="770.43" cy="458.24" r="4.1" fill="#ff00ff"/>
<circle cx="777.44" cy="450.67" r="4.1" fill="#ff00ff"/>
<circle cx="784.45" cy="444.08" r="4.1" fill="#ff00ff"/>
<circle cx="791.46" cy="438.62" r="4.1" fill="#ff00ff"/>
<circle cx="798.47" cy="433.98" r="4.1" fill="#ff00ff"/>
<circle cx="805.48" cy="430.67" r="4.1" fill="#ff00ff"/>
<circle cx="812.49" cy="428.93" r="4.1" fill="#ff00ff"/>
<circle cx="819.50" cy="428.15" r="4.1" fill="#ff00ff"/>
<circle cx="539.10" cy="716.00" r="3.05" fill="#ff0000"/>
<circle cx="546.11" cy="712.03" r="3.05" fill="#ff0000"/>
<circle cx="553.12" cy="706.15" r="3.05" fill="#ff0000"/>
<circle cx="560.13" cy="697.29" r="3.05" fill="#ff0000"/>
<circle cx="567.14" cy="686.69" r="3.05" fill="#ff0000"/>
<circle cx="574.15" cy="673.90" r="3.05" fill="#ff0000"/>
<circle cx="581.16" cy="661.10" r="3.05" fill="#ff0000"/>
<circle cx="588.17" cy="647.36" r="3.05" fill="#ff0000"/>
<circle cx="595.18" cy="633.41" r="3.05" fill="#ff0000"/>
<circle cx="602.19" cy="619.46" r="3.05" fill="#ff0000"/>
<circle cx="609.20" cy="605.67" r="3.05" fill="#ff0000"/>
<circle cx="616.21" cy="592.13" r="3.05" fill="#ff0000"/>
<circle cx="623.22" cy="578.55" r="3.05" fill="#ff0000"/>
<circle cx="630.23" cy="566.55" r="3.05" fill="#ff0000"/>
<circle cx="637.24" cy="554.04" r="3.05" fill="#ff0000"/>
<circle cx="644.25" cy="542.45" r="3.05" fill="#ff0000"/>
<circle cx="651.26" cy="531.65" r="3.05" fill="#ff0000"/>
<circle cx="658.27" cy="521.63" r="3.05" fill="#ff0000"/>
<circle cx="665.28" cy="512.56" r="3.05" fill="#ff0000"/>
<circle cx="672.29" cy="506.89" r="3.05" fill="#ff0000"/>
<circle cx="679.30" cy="553.30" r="3.05" fill="#ff0000"/>
<circle cx="686.31" cy="580.70" r="3.05" fill="#ff0000"/>
<circle cx="693.32" cy="571.02" r="3.05" fill="#ff0000"/>
<circle cx="700.33" cy="560.71" r="3.05" fill="#ff0000"/>
<circle cx="707.34" cy="550.07" r="3.05" fill="#ff0000"/>
<circle cx="714.35" cy="538.81" r="3.05" fill="#ff0000"/>
<circle cx="721.36" cy="527.71" r="3.05" fill="#ff0000"/>
<circle cx="728.37" cy="516.66" r="3.05" fill="#ff0000"/>
<circle cx="735.38" cy="505.98" r="3.05" fill="#ff0000"/>
<circle cx="742.39" cy="495.71" r="3.05" fill="#ff0000"/>
<circle cx="749.40" cy="485.82" r="3.05" fill="#ff0000"/>
<circle cx="756.41" cy="475.88" r="3.05" fill="#ff0000"/>
<circle cx="763.42" cy="466.77" r="3.05" fill="#ff0000"/>
<circle cx="770.43" cy="458.24" r="3.05" fill="#ff0000"/>
<circle cx="777.44" cy="450.67" r="3.05" fill="#ff0000"/>
<circle cx="784.45" cy="444.08" r="3.05" fill="#ff0000"/>
<circle cx="791.46" cy="438.62" r="3.05" fill="#ff0000"/>
<circle cx="798.47" cy="433.98" r="3.05" fill="#ff0000"/>
<circle cx="805.48" cy="430.67" r="3.05" fill="#ff0000"/>
<circle cx="812.49" cy="428.93" r="3.05" fill="#ff0000"/>
<circle cx="819.50" cy="428.15" r="3.05" fill="#ff0000"/>
<rect x="535.95" y="712.81" width="6.3" height="6.3" fill="#0000ff"/>
<rect x="542.96" y="711.82" width="6.3" height="6.3" fill="#0000ff"/>
<rect x="549.97" y="709.87" width="6.3" height="6.3" fill="#0000ff"/>
<rect x="556.98" y="707.51" width="6.3" height="6.3" fill="#0000ff"/>
<rect x="563.99" y="704.57" width="6.3" height="6.3" fill="#0000ff"/>
<rect x="571.00" y="700.64" width="6.3" height="6.3" fill="#0000ff"/>
<rect x="578.01" y="696.29" width="6.3" height="6.3" fill="#0000ff"/>
<rect x="585.02" y="691.20" width="6.3" height="6.3" fill="#0000ff"/>
<rect x="592.03" y="685.90" width="6.3" height="6.3" fill="#0000ff"/>
<rect x="599.04" y="679.98" width="6.3" height="6.3" fill="#0000ff"/>
<rect x="606.05" y="673.89" width="6.3" height="6.3" fill="#0000ff"/>
<rect x="613.06" y="667.39" width="6.3" height="6.3" fill="#0000ff"/>
<rect x="620.07" y="659.94" width="6.3" height="6.3" fill="#0000ff"/>
<rect x="627.08" y="652.65" width="6.3" height="6.3" fill="#0000ff"/>
<rect x="634.09" y="644.79" width="6.3" height="6.3" fill="#0000ff"/>
<rect x="641.10" y="636.55" width="6.3" height="6.3" fill="#0000ff"/>
<rect x="648.11" y="627.69" width="6.3" height="6.3" fill="#0000ff"/>
<rect x="655.12" y="618.46" width="6.3" height="6.3" fill="#0000ff"/>
<rect x="662.13" y="608.65" width="6.3" height="6.3" fill="#0000ff"/>
<rect x="669.14" y="597.01" width="6.3" height="6.3" fill="#0000ff"/>
<rect x="676.15" y="546.96" width="6.3" height="6.3" fill="#0000ff"/>
<rect x="683.16" y="487.72" width="6.3" height="6.3" fill="#0000ff"/>
<rect x="690.17" y="477.62" width="6.3" height="6.3" fill="#0000ff"/>
<rect x="697.18" y="470.41" width="6.3" height="6.3" fill="#0000ff"/>
<rect x="704.19" y="464.41" width="6.3" height="6.3" fill="#0000ff"/>
<rect x="711.20" y="458.99" width="6.3" height="6.3" fill="#0000ff"/>
<rect x="718.21" y="454.10" width="6.3" height="6.3" fill="#0000ff"/>
<rect x="725.22" y="449.84" width="6.3" height="6.3" fill="#0000ff"/>
<rect x="732.23" y="445.78" width="6.3" height="6.3" fill="#0000ff"/>
<rect x="739.24" y="442.26" width="6.3" height="6.3" fill="#0000ff"/>
<rect x="746.25" y="439.15" width="6.3" height="6.3" fill="#0000ff"/>
<rect x="753.26" y="436.46" width="6.3" height="6.3" fill="#0000ff"/>
<rect x="760.27" y="433.94" width="6.3" height="6.3" fill="#0000ff"/>
<rect x="767.28" y="431.58" width="6.3" height="6.3" fill="#0000ff"/>
<rect x="774.29" y="429.67" width="6.3" height="6.3" fill="#0000ff"/>
<rect x="781.30" y="428.10" width="6.3" height="6.3" fill="#0000ff"/>
<rect x="788.31" y="426.73" width="6.3" height="6.3" fill="#0000ff"/>
<rect x="795.32" y="425.78" width="6.3" height="6.3" fill="#0000ff"/>
<rect x="802.33" y="425.20" width="6.3" height="6.3" fill="#0000ff"/>
<rect x="809.34" y="425.00" width="6.3" height="6.3" fill="#0000ff"/>
<rect x="816.35" y="425.00" width="6.3" height="6.3" fill="#0000ff"/>
<text transform="translate(530.98,757.48) scale(1.0247,1)" font-size="32.30" font-weight="normal" font-style="normal" >0</text>
<text transform="translate(810.55,756.89) scale(0.9887,1)" font-size="30.54" font-weight="normal" font-style="italic" >π</text>
<text transform="translate(656.55,756.89) scale(0.9750,1)" font-size="30.97" font-weight="normal" font-style="italic" >π</text>
<line x1="676.10" y1="761.70" x2="684.70" y2="735.90" stroke="#000" stroke-width="1.4" />
<text transform="translate(685.84,756.90) scale(1.0974,1)" font-size="31.67" font-weight="normal" font-style="normal" >2</text>
<text transform="translate(665.10,803.94) scale(1.1395,1)" font-size="41.23" font-weight="bold" font-style="italic" >ϕ</text>
<text transform="translate(467.94,581.96) rotate(-90) scale(1.0016,1)" font-size="45.82" font-weight="normal" font-style="italic">S</text>
<text transform="translate(416.78,443.41) scale(0.9134,1)" font-size="44.22" font-weight="normal" font-style="normal" stroke="#000" stroke-width="0.3">(</text>
<text transform="translate(431.14,442.70) scale(1.0912,1)" font-size="40.29" font-weight="bold" font-style="normal" >d</text>
<text transform="translate(457.49,443.41) scale(0.9132,1)" font-size="44.22" font-weight="normal" font-style="normal" stroke="#000" stroke-width="0.3">)</text>
</g>
</svg>
</body></html>
